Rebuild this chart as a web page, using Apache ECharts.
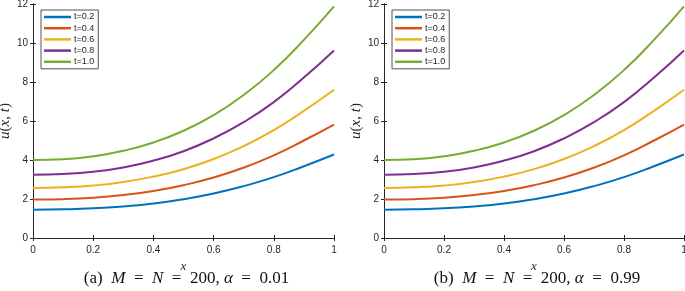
<!DOCTYPE html>
<html>
<head>
<meta charset="utf-8">
<script src="https://cdn.jsdelivr.net/npm/echarts@6/dist/echarts.min.js"></script>
<style>
  html, body { margin: 0; padding: 0; background: #fff; }
  #main { width: 685px; height: 291px; }
</style>
</head>
<body>
<div id="main"></div>
<script>
// x positions where the curves were read
const xs = [0, 0.1, 0.2, 0.3, 0.4, 0.5, 0.6, 0.7, 0.8, 0.9, 1.0]

// panel (a) alpha = 0.01
const a_t02 = [1.45, 1.47, 1.52, 1.62, 1.77, 1.99, 2.28, 2.66, 3.12, 3.68, 4.28]
const a_t04 = [1.97, 1.99, 2.06, 2.20, 2.41, 2.71, 3.10, 3.61, 4.24, 5.00, 5.82]
const a_t06 = [2.57, 2.60, 2.69, 2.87, 3.15, 3.53, 4.05, 4.71, 5.53, 6.52, 7.60]
const a_t08 = [3.24, 3.28, 3.40, 3.62, 3.97, 4.45, 5.11, 5.94, 6.97, 8.23, 9.62]
const a_t10 = [4.00, 4.04, 4.19, 4.47, 4.90, 5.50, 6.30, 7.33, 8.61, 10.16, 11.88]

// panel (b) alpha = 0.99
const b_t02 = [1.45, 1.47, 1.52, 1.62, 1.77, 1.99, 2.28, 2.66, 3.12, 3.68, 4.28]
const b_t04 = [1.97, 1.99, 2.06, 2.20, 2.41, 2.71, 3.10, 3.61, 4.24, 5.00, 5.82]
const b_t06 = [2.57, 2.60, 2.69, 2.87, 3.15, 3.53, 4.05, 4.71, 5.53, 6.52, 7.60]
const b_t08 = [3.24, 3.28, 3.40, 3.62, 3.97, 4.45, 5.11, 5.94, 6.97, 8.23, 9.62]
const b_t10 = [4.00, 4.04, 4.19, 4.47, 4.90, 5.50, 6.30, 7.33, 8.61, 10.16, 11.88]

const names = ['t=0.2', 't=0.4', 't=0.6', 't=0.8', 't=1.0']
const colors = ['#0072BD', '#D95319', '#EDB120', '#7E2F8E', '#77AC30']
const panels = [
  [a_t02, a_t04, a_t06, a_t08, a_t10],
  [b_t02, b_t04, b_t06, b_t08, b_t10],
]
const captions = [
  ['(a)', '0.01'],
  ['(b)', '0.99'],
]

const sans = '"Liberation Sans", Arial, sans-serif'
const serif = '"Liberation Serif", "DejaVu Serif", serif'
const ink = '#262626'

const grids = [
  { left: 33, top: 4, width: 301, height: 234, outerBoundsMode: 'none', containLabel: false },
  { left: 384, top: 4, width: 300, height: 234, outerBoundsMode: 'none', containLabel: false },
]

const xAxis = []
const yAxis = []
const series = []
const legend = []
const graphic = []

grids.forEach((g, i) => {
  // bottom x axis
  xAxis.push({
    type: 'value', gridIndex: i, min: 0, max: 1, interval: 0.2,
    position: 'bottom',
    axisLine: { lineStyle: { color: ink, width: 1 } },
    axisTick: { inside: true, length: 3, lineStyle: { color: ink } },
    axisLabel: { color: ink, fontSize: 10, fontFamily: sans, margin: 7 },
    splitLine: { show: false },
    name: 'x', nameLocation: 'middle', nameGap: 13,
    nameTextStyle: { fontFamily: serif, fontStyle: 'italic', fontSize: 13, color: ink },
  })
  // top x axis (box + inward ticks)
  xAxis.push({
    type: 'value', gridIndex: i, min: 0, max: 1, interval: 0.2,
    position: 'top',
    axisLine: { lineStyle: { color: ink, width: 1 } },
    axisTick: { inside: true, length: 3, lineStyle: { color: ink } },
    axisLabel: { show: false },
    splitLine: { show: false },
  })
  yAxis.push({
    type: 'value', gridIndex: i, min: 0, max: 12, interval: 2,
    position: 'left',
    axisLine: { show: true, lineStyle: { color: ink, width: 1 } },
    axisTick: { show: true, inside: true, length: 3, lineStyle: { color: ink } },
    axisLabel: { color: ink, fontSize: 10, fontFamily: sans, margin: 5 },
    splitLine: { show: false },
    name: '{i|u}{r|(}{i|x}{r|, }{i|t}{r|)}', nameLocation: 'middle', nameGap: 13,
    nameTextStyle: {
      color: ink,
      rich: {
        i: { fontFamily: serif, fontStyle: 'italic', fontSize: 15, color: ink },
        r: { fontFamily: serif, fontSize: 15, color: ink },
      },
    },
  })
  yAxis.push({
    type: 'value', gridIndex: i, min: 0, max: 12, interval: 2,
    position: 'right',
    axisLine: { show: true, lineStyle: { color: ink, width: 1 } },
    axisTick: { show: true, inside: true, length: 3, lineStyle: { color: ink } },
    axisLabel: { show: false },
    splitLine: { show: false },
  })

  panels[i].forEach((vals, k) => {
    series.push({
      name: names[k],
      type: 'line',
      xAxisIndex: i * 2,
      yAxisIndex: i * 2,
      data: xs.map((x, j) => [x, vals[j]]),
      smooth: true,
      symbol: 'none',
      lineStyle: { color: colors[k], width: 2 },
      itemStyle: { color: colors[k] },
      animation: false,
    })
  })

  legend.push({
    orient: 'vertical',
    left: g.left + 8,
    top: 10,
    data: names.map(n => ({ name: n, icon: 'rect' })),
    itemWidth: 27,
    itemHeight: 2.5,
    itemGap: 1.2,
    padding: [2, 4, 2, 3],
    backgroundColor: '#fff',
    borderColor: ink,
    borderWidth: 0.8,
    borderRadius: 0,
    selectedMode: false,
    textStyle: { fontSize: 9, fontFamily: sans, color: ink, padding: [0, 0, 0, -2], lineHeight: 10 },
  })

  graphic.push({
    type: 'text',
    x: g.left + g.width / 2 + 3,
    y: 279,
    style: {
      text: '{r|' + captions[i][0] + '  }{i|M}{r|  =  }{i|N}{r|  =  200, }{i|α}{r|  =  ' + captions[i][1] + '}',
      align: 'center',
      verticalAlign: 'middle',
      rich: {
        r: { fontFamily: serif, fontSize: 17, fill: '#111' },
        i: { fontFamily: serif, fontStyle: 'italic', fontSize: 17, fill: '#111' },
      },
    },
  })
})

const chart = echarts.init(document.getElementById('main'))
chart.setOption({
  backgroundColor: '#fff',
  animation: false,
  grid: grids,
  xAxis,
  yAxis,
  legend,
  series,
  graphic,
})
</script>
</body>
</html>
